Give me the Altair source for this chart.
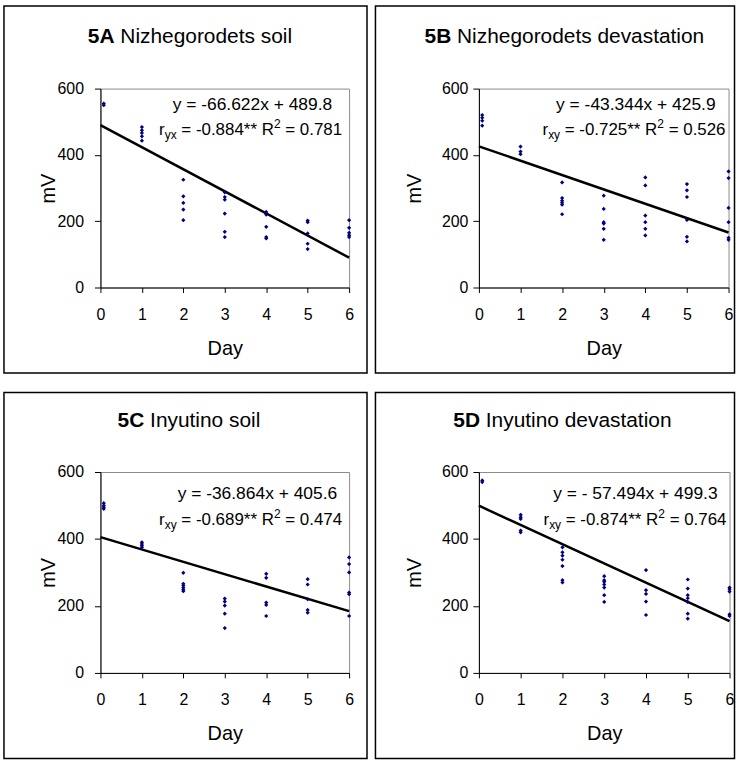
import altair as alt

FONT = "Liberation Sans"

# ---------------- data ----------------
DAYS = [0.08, 1, 2, 3, 4, 5, 6]

A_VALUES = [[555, 550], [484, 474, 466, 456, 443], [325, 275, 255, 235, 203],
            [287, 273, 265, 223, 168, 152], [228, 220, 183, 152, 148],
            [202, 197, 163, 132, 116], [203, 180, 165, 158, 152]]
B_VALUES = [[520, 512, 503, 488], [425, 410, 402], [317, 270, 262, 256, 250, 221],
            [277, 237, 197, 193, 177, 144], [332, 308, 217, 197, 177, 157],
            [312, 293, 273, 204, 153, 139], [350, 330, 240, 197, 150, 144]]
C_VALUES = [[507, 500, 495, 490], [390, 385, 380, 375], [299, 266, 261, 254, 248, 244],
            [222, 213, 201, 177, 134], [296, 284, 210, 203, 170],
            [280, 264, 220, 188, 180], [345, 325, 300, 240, 235, 170]]
D_VALUES = [[575, 570], [472, 465, 460, 425, 420], [375, 360, 350, 338, 319, 277, 270],
            [289, 277, 272, 264, 255, 232, 212], [307, 247, 236, 213, 173],
            [279, 252, 232, 223, 212, 177, 162], [255, 250, 243, 175, 170]]

SLOPES = {"A": -66.622, "B": -43.344, "C": -36.864, "D": -57.494}
INTERCEPTS = {"A": 489.8, "B": 425.9, "C": 405.6, "D": 499.3}
EQUATIONS = {"A": "y = -66.622x + 489.8", "B": "y = -43.344x + 425.9",
             "C": "y = -36.864x + 405.6", "D": "y = - 57.494x + 499.3"}
R_SUBS = {"A": "yx", "B": "xy", "C": "xy", "D": "xy"}
R_VALUES = {"A": "-0.884**", "B": "-0.725**", "C": "-0.689**", "D": "-0.874**"}
R2_VALUES = {"A": "0.781", "B": "0.526", "C": "0.474", "D": "0.764"}
TITLE_BOLD = {"A": "5A", "B": "5B", "C": "5C", "D": "5D"}
TITLE_REST = {"A": "Nizhegorodets soil", "B": "Nizhegorodets devastation",
              "C": "Inyutino soil", "D": "Inyutino devastation"}
Y_TICKS = [0, 200, 400, 600]
X_TICKS = [0, 1, 2, 3, 4, 5, 6]

# ---------------- text width helper (Arial / Liberation Sans metrics) ----------------
REG = {' ': 278, '=': 584, '+': 584, '-': 333, '.': 278, '*': 389,
       'R': 722, 'r': 333, 'x': 500, 'y': 500, 'I': 278, 'N': 722, 'a': 556,
       'd': 556, 'e': 556, 'g': 556, 'h': 556, 'i': 222, 'l': 222, 'n': 556,
       'o': 556, 's': 500, 't': 278, 'u': 556, 'v': 500, 'z': 500}
BOLD = {'A': 722, 'B': 722, 'C': 722, 'D': 722}


def tw(s, size, bold=False):
    tot = 0
    for ch in s:
        if ch.isdigit():
            tot += 556
        else:
            tot += (BOLD if bold else REG).get(ch, 556)
    return tot * size / 1000.0


TS = 21      # title font size
AS = 17      # annotation font size (second line)
ES = 17.5    # equation font size
SS = 12      # sub / superscript size

# layout per panel (plot-relative pixel geometry of decorations)
GEOM = {
    "A": dict(W=250, H=200, fx=(-97, 268), fy=(-83, 286), tcx=90, ty=-46,
              eqx=233, eqy=22, rx=243, ry=47, lpad=11, mvx=-52),
    "B": dict(W=251, H=200, fx=(-104, 257), fy=(-83, 286), tcx=86, ty=-46,
              eqx=238, eqy=22, rx=248, ry=47, lpad=5, mvx=-65),
    "C": dict(W=250, H=202, fx=(-97, 268), fy=(-80, 288), tcx=89, ty=-45,
              eqx=238, eqy=27, rx=243, ry=53, lpad=11, mvx=-52),
    "D": dict(W=252, H=202, fx=(-104, 257), fy=(-80, 288), tcx=84, ty=-45,
              eqx=240, eqy=27, rx=249, ry=53, lpad=5, mvx=-65),
}
VALUES = {"A": A_VALUES, "B": B_VALUES, "C": C_VALUES, "D": D_VALUES}

ONE = alt.Data(values=[{"k": 1}])


def txt(x, y, text, size, align="left", bold=False):
    return alt.Chart(ONE).mark_text(
        align=align, baseline="alphabetic", font=FONT, fontSize=size,
        fontWeight="bold" if bold else "normal", color="black"
    ).encode(x=alt.value(x), y=alt.value(y), text=alt.value(text))


def panel(key):
    g = GEOM[key]
    rows = []
    for d, vals in zip(DAYS, VALUES[key]):
        for v in vals:
            rows.append({"day": d, "mv": v})

    xs = alt.Scale(domain=[0, 6], nice=False, zero=False)
    ys = alt.Scale(domain=[0, 600], nice=False)
    xaxis = alt.Axis(values=X_TICKS, format="d", title="Day", grid=False,
                     labelFont=FONT, labelFontSize=16, labelColor="black",
                     labelPadding=14, labelFlush=False, labelOverlap=False,
                     tickSize=5, tickColor="black", domainColor="black",
                     titleFont=FONT, titleFontSize=20, titleFontWeight="normal",
                     titleColor="black", titleY=67, titleBaseline="alphabetic")
    yaxis = alt.Axis(values=Y_TICKS, title="mV", grid=False,
                     labelFont=FONT, labelFontSize=16, labelColor="black",
                     labelPadding=g["lpad"], labelFlush=False, labelOverlap=False,
                     tickSize=6, tickColor="black", domainColor="black",
                     titleFont=FONT, titleFontSize=20, titleFontWeight="normal",
                     titleColor="black", titleAngle=270, titleX=g["mvx"],
                     titleY=g["H"] / 2, titleAlign="center", titleBaseline="middle")

    pts = alt.Chart(alt.Data(values=rows)).mark_point(
        shape="diamond", filled=True, size=18, color="#000080", opacity=1
    ).encode(x=alt.X("day:Q", scale=xs, axis=xaxis),
             y=alt.Y("mv:Q", scale=ys, axis=yaxis))

    line = alt.Chart(alt.Data(values=[{"day": 0}, {"day": 6}])).transform_calculate(
        fit=f"{INTERCEPTS[key]} + ({SLOPES[key]}) * datum.day"
    ).mark_line(color="black", strokeWidth=2.5).encode(
        x=alt.X("day:Q", scale=xs), y=alt.Y("fit:Q", scale=ys))

    frame = alt.Chart(ONE).mark_rect(fill=None, filled=False, stroke="black",
                                     strokeWidth=1.5).encode(
        x=alt.value(g["fx"][0]), x2=alt.value(g["fx"][1]),
        y=alt.value(g["fy"][0]), y2=alt.value(g["fy"][1]))

    # title: bold label + space + regular text
    wb = tw(TITLE_BOLD[key], TS, bold=True)
    wsp = tw(" ", TS)
    wr = tw(TITLE_REST[key], TS)
    left = g["tcx"] - (wb + wsp + wr) / 2
    layers = [frame, line, pts,
              txt(left, g["ty"], TITLE_BOLD[key], TS, bold=True),
              txt(left + wb + wsp, g["ty"], TITLE_REST[key], TS),
              txt(g["eqx"], g["eqy"], EQUATIONS[key], ES, align="right")]

    # second line: r_xy = value** R^2 = value, built from pieces (text, size, dy, lead space)
    pieces = [("r", AS, 0, 0.0),
              (R_SUBS[key], SS, 4, 0.0),
              ("= " + R_VALUES[key] + " R", AS, 0, tw(" ", AS)),
              ("2", SS, -7, 0.0),
              ("= " + R2_VALUES[key], AS, 0, tw(" ", AS))]
    total = sum(tw(p[0], p[1]) + p[3] for p in pieces)
    x = g["rx"] - total
    for text, size, dy, lead in pieces:
        x += lead
        layers.append(txt(x, g["ry"] + dy, text, size))
        x += tw(text, size)

    return alt.layer(*layers).properties(width=g["W"], height=g["H"])


row1 = alt.hconcat(panel("A"), panel("B"), spacing=4.5)
row2 = alt.hconcat(panel("C"), panel("D"), spacing=4.5)
chart = alt.vconcat(row1, row2, spacing=15.5).properties(
    padding={"left": 2, "top": 2, "right": 0, "bottom": 0},
    background="white",
).configure_view(stroke="#8a8a8a", strokeWidth=1)

chart.save("out.html", embed_options={"renderer": "svg", "actions": False})
